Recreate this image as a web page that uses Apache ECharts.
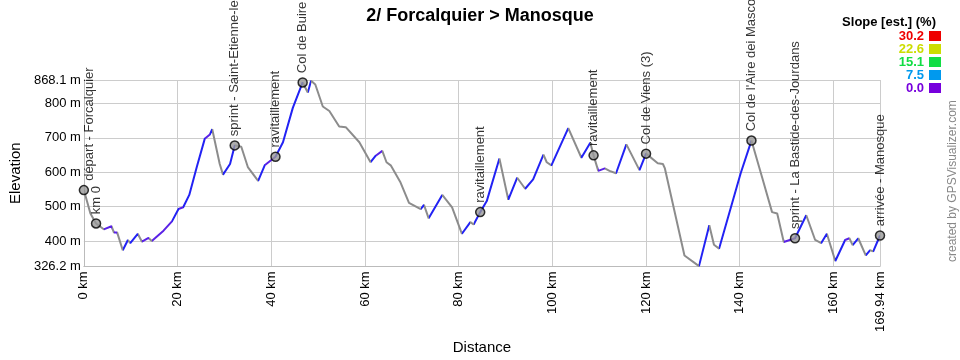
<!DOCTYPE html>
<html>
<head>
<meta charset="utf-8">
<script src="https://cdn.jsdelivr.net/npm/echarts@6/dist/echarts.min.js"></script>
<style>html,body{margin:0;padding:0;background:#fff}#c{width:960px;height:360px}</style>
</head>
<body>
<div id="c"></div>
<script>
// Profile (distance km, elevation m)
const distKm = [0,1.4,2.6,4.25,5.9,6.4,7.1,8.3,9.4,9.9,11.5,12.4,13.8,14.5,17.0,18.8,20.2,21.2,22.5,24.1,25.8,26.9,27.4,29.0,29.7,31.2,32.2,33.6,35.0,37.2,38.6,40.9,42.5,44.6,46.7,47.8,48.5,49.4,51.0,52.4,54.5,55.9,58.8,61.2,62.3,63.7,64.6,65.5,67.6,69.4,71.9,72.6,73.6,76.5,78.6,80.7,82.5,83.2,84.6,86.0,88.7,90.6,92.5,94.2,95.9,98.1,98.8,99.8,103.4,106.2,108.1,108.8,109.8,111.2,112.2,113.6,115.8,118.6,120.0,122.5,123.6,124.0,128.2,131.3,133.5,134.5,135.6,140.2,142.5,144.8,146.9,148.0,149.4,151.8,154.2,156.1,157.4,158.6,160.4,162.5,163.4,164.1,165.3,166.9,167.8,168.5,169.94];
const elevM = [548,480,451,434,443,425,425,373,403,394,421,398,409,400,430,457,493,498,534,615,697,710,725,624,593,624,678,674,615,575,620,645,687,787,861,832,866,855,791,778,733,731,687,629,648,662,629,620,570,511,493,505,466,534,498,421,455,448,484,516,640,520,584,552,579,651,629,620,728,642,686,649,604,611,604,597,681,606,654,626,624,612,358,327,446,389,378,597,692,584,484,480,397,408,475,403,394,421,342,403,408,388,408,358,373,370,416];

// Waypoints
const wpNames = ['départ - Forcalquier','km 0','sprint - Saint-Etienne-les-Orgues','ravitaillement','Col de Buire (2)','ravitaillement','ravitaillement','Col de Viens (3)',"Col de l'Aire dei Masco (1)",'sprint - La Bastide-des-Jourdans','arrivée - Manosque'];
const wpDist = [0,2.6,32.2,40.9,46.7,84.6,108.8,120.0,142.5,151.8,169.94];
const wpElev = [548,451,678,645,861,484,649,654,692,408,416];

// Axis ticks
const xTicks = [0,20,40,60,80,100,120,140,160,169.94];
const yTicks = [326.2,400,500,600,700,800,868.1];

// Slope legend
const legendVals = ['30.2','22.6','15.1','7.5','0.0'];
const legendColors = ['#ee0000','#ccdd00','#11dd44','#0099ee','#7700dd'];

const FONT = 'Arial, "Liberation Sans", sans-serif';

function slopeColor(s){
  if (s < 0) return '#8c8c8c';
  if (s < 1.5) return '#5a22e6';
  if (s < 8) return '#2222f4';
  return '#16a6ea';
}
const pieces = [];
for (let i = 0; i < distKm.length - 1; i++) {
  const s = (elevM[i+1]-elevM[i]) / ((distKm[i+1]-distKm[i]) * 1000) * 100;
  pieces.push({gte: distKm[i], lt: distKm[i+1], color: slopeColor(s)});
}
pieces[pieces.length-1].lte = distKm[distKm.length-1];
delete pieces[pieces.length-1].lt;

const lineData = distKm.map((d,i)=>[d, elevM[i]]);
const wpData = wpDist.map((d,i)=>{
  const o = {name: wpNames[i], value: [d, wpElev[i]]};
  if (i === 0) o.label = {offset: [0, 6]};
  return o;
});

const graphics = [];
graphics.push({type:'text', right: 24, top: 16, style:{text:'Slope [est.] (%)', font:'bold 13px ' + FONT, fill:'#000'}});
legendVals.forEach((v,i)=>{
  graphics.push({type:'text', x: 924, y: 30 + i*13, style:{text:v, font:'bold 13px ' + FONT, fill:legendColors[i], align:'right'}});
  graphics.push({type:'rect', shape:{x:929, y:31 + i*13, width:12, height:10}, style:{fill:legendColors[i]}});
});
graphics.push({type:'text', x: 947, y: 262, rotation: Math.PI/2, style:{text:'created by GPSVisualizer.com', font:'12px ' + FONT, fill:'#888'}});

const chart = echarts.init(document.getElementById('c'), null, {renderer:'canvas'});
chart.setOption({
  animation: false,
  backgroundColor: '#fff',
  title: {text: '2/ Forcalquier > Manosque', left: 'center', top: 2,
    textStyle: {fontFamily: FONT, fontWeight: 'bold', fontSize: 18, color: '#000'}},
  grid: {left: 80, right: 80, top: 80, bottom: 80, containLabel: false},
  xAxis: {
    type: 'value', min: 0, max: 169.94,
    name: 'Distance', nameLocation: 'middle', nameGap: 64,
    nameTextStyle: {fontFamily: FONT, fontSize: 15, color: '#000'},
    axisLine: {show: true, lineStyle: {color: '#bbbbbb'}},
    axisTick: {show: false, customValues: xTicks},
    axisLabel: {customValues: xTicks, rotate: 90, margin: 5, fontFamily: FONT, fontSize: 13, color: '#000',
      formatter: v => v + ' km'},
    splitLine: {show: true, lineStyle: {color: '#cccccc'}}
  },
  yAxis: {
    type: 'value', min: 326.2, max: 868.1,
    name: 'Elevation', nameLocation: 'middle', nameGap: 56, nameRotate: 90,
    nameTextStyle: {fontFamily: FONT, fontSize: 15, color: '#000'},
    axisLine: {show: true, lineStyle: {color: '#bbbbbb'}},
    axisTick: {show: false, customValues: yTicks},
    axisLabel: {customValues: yTicks, margin: 3, fontFamily: FONT, fontSize: 13, color: '#000',
      formatter: v => v + ' m'},
    splitLine: {show: true, lineStyle: {color: '#cccccc'}}
  },
  visualMap: {show: false, type: 'piecewise', dimension: 0, seriesIndex: 0, pieces: pieces},
  graphic: graphics,
  series: [
    {type: 'line', data: lineData, showSymbol: false, symbol: 'none', lineStyle: {width: 2}, z: 2},
    {type: 'scatter', data: wpData, symbol: 'circle', symbolSize: 9, z: 3,
      itemStyle: {color: '#999999', borderColor: '#000', borderWidth: 1.5},
      label: {show: true, formatter: p => p.name, position: 'top', distance: 4, rotate: 90,
        align: 'left', verticalAlign: 'middle', fontFamily: FONT, fontSize: 13, color: '#000'}}
  ]
});
</script>
</body>
</html>
